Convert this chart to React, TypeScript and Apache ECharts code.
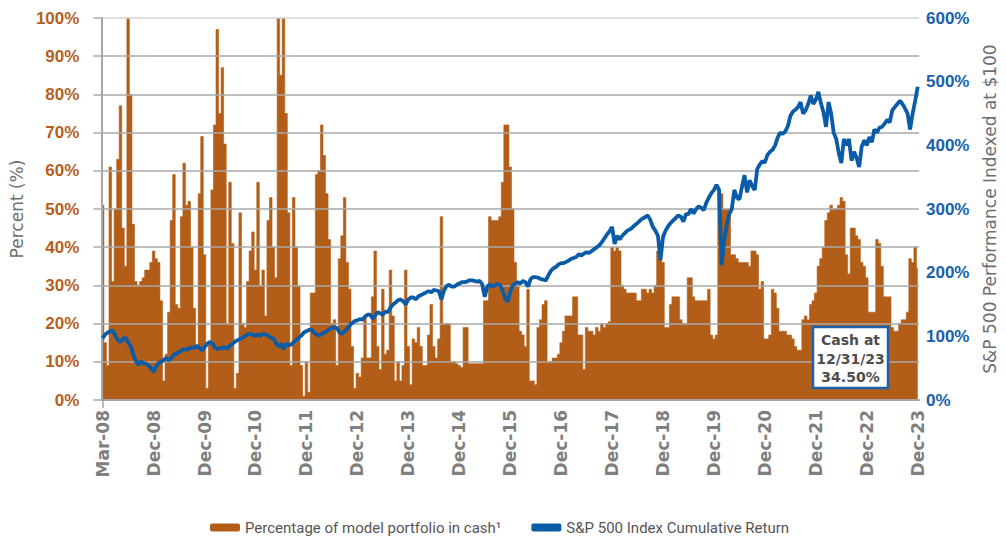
import React, { useEffect, useRef } from 'react';
import * as echarts from 'echarts';

const tickLabels = [
  'Mar-08', 'Dec-08', 'Dec-09', 'Dec-10', 'Dec-11', 'Dec-12', 'Dec-13', 'Dec-14', 'Dec-15',
  'Dec-16', 'Dec-17', 'Dec-18', 'Dec-19', 'Dec-20', 'Dec-21', 'Dec-22', 'Dec-23',
];

// Percentage of model portfolio in cash (left axis, %)
const cashPct = [
  51, 15, 9, 61, 31, 50, 63, 77, 45, 35,
  100, 80, 46, 31, 30, 31, 32, 34, 34, 36,
  39, 37, 36, 26, 5, 12, 23, 47, 59, 25,
  24, 48, 62, 51, 52, 40, 24, 14, 54, 69,
  38, 3, 15, 55, 72, 97, 75, 87, 67, 20,
  57, 41, 3, 7, 49, 20, 19, 31, 39, 44,
  34, 57, 30, 34, 22, 47, 53, 40, 32, 100,
  85, 100, 75, 49, 9, 53, 40, 30, 9, 1,
  10, 2, 28, 28, 59, 60, 72, 64, 54, 42,
  20, 21, 9, 37, 43, 53, 36, 29, 14, 3,
  7, 6, 11, 22, 11, 11, 27, 39, 14, 8,
  29, 12, 13, 34, 22, 5, 10, 5, 9, 34,
  14, 4, 16, 15, 19, 14, 9, 9, 17, 25,
  14, 11, 16, 48, 20, 20, 20, 10, 10, 9.5,
  9, 8.5, 19, 19, 9.5, 9.5, 9.5, 9.5, 9.5, 9.5,
  26, 26, 48, 47, 47, 47, 48, 57, 72, 72,
  61, 50, 36, 30, 18, 17, 14, 29, 5, 5,
  4, 19, 21, 25, 26, 10, 10, 11, 11, 12,
  15, 18, 22, 22, 22, 27, 27, 17, 17, 8,
  19, 18, 18, 17, 19, 18, 20, 19, 20, 20.5,
  40, 39, 40, 39, 30, 29, 28, 28, 28, 28,
  26, 26, 29, 29, 28, 29, 28, 30, 39, 39,
  36, 19, 19, 25, 27, 27, 27, 21, 20, 20,
  32, 32, 27, 26, 26, 26, 26, 26, 29, 17,
  16, 17, 54, 54, 50, 50, 50, 38, 38, 37,
  36, 36, 36, 36, 35, 39, 39, 38, 29, 31,
  16, 16, 17, 29, 28, 24, 18, 18, 18, 17,
  17, 16, 14, 13, 13, 21, 22, 21, 25, 26,
  28, 35, 37, 40, 47, 49, 51, 50, 50, 51,
  53, 52, 38, 33, 45, 45, 43, 42, 36, 35,
  32, 23, 23, 23, 42, 41, 35, 27, 27, 27,
  19, 18, 18, 20, 21, 21, 23, 37, 36, 40,
  34.5,
];

// S&P 500 performance indexed at $100 (right axis, %)
const spReturn = [
  97, 103, 106, 108, 109, 101, 94, 91, 96, 98,
  90, 85, 72, 62, 55, 60, 58, 57, 54, 50,
  44, 53, 58, 60, 63, 66, 62, 66, 71, 73,
  75, 78, 80, 79, 81, 83, 82, 85, 82, 78,
  83, 88, 91, 89, 83, 80, 81, 82, 83, 80,
  86, 88, 92, 94, 96, 98, 101, 103, 104, 102,
  101, 103, 101, 104, 103, 101, 98, 97, 90, 84,
  88, 80, 88, 86, 87, 91, 94, 98, 101, 106,
  108, 110, 111, 106, 103, 101, 104, 106, 108, 111,
  113, 114, 113, 106, 104, 108, 112, 117, 121, 124,
  125, 127, 126, 131, 134, 134, 128, 133, 138, 136,
  134, 139, 138, 145, 150, 153, 157, 158, 155, 150,
  158, 161, 161, 158, 163, 165, 167, 169, 171, 169,
  173, 172, 171, 158, 172, 179, 181, 178, 178, 181,
  183, 185, 185, 186, 188, 188, 187, 186, 187, 182,
  162, 178, 182, 178, 180, 182, 181, 172, 160, 154,
  170, 180, 183, 185, 183, 187, 185, 178, 190, 193,
  193, 192, 190, 189, 188, 196, 203, 207, 209, 213,
  215, 215, 217, 219, 222, 223, 225, 229, 227, 230,
  232, 231, 234, 237, 240, 243, 248, 254, 260, 265,
  272, 245, 258, 252, 258, 262, 266, 268, 271, 275,
  278, 282, 285, 287, 290, 283, 272, 266, 258, 220,
  256, 266, 273, 278, 282, 286, 290, 288, 280, 292,
  292, 300, 293, 300, 304, 302, 298, 310, 318, 325,
  330, 338, 330, 212, 250, 275, 292, 300, 330, 318,
  315, 335, 353, 326, 345, 336, 330, 363, 370, 375,
  373, 385, 390, 393, 400, 412, 420, 418, 422, 430,
  446, 453, 456, 460, 468, 450, 455, 465, 478, 465,
  472, 484, 466, 452, 429, 468, 450, 420, 410, 388,
  372, 410, 400, 410, 376, 390, 380, 366, 398, 408,
  400, 413, 405, 425, 420, 428, 429, 434, 440, 436,
  455, 460, 465, 470, 465, 458, 450, 425, 450, 470,
  492,
];

const cashName = 'Percentage of model portfolio in cash\u00B9';
const spName = 'S&P 500 Index Cumulative Return';

export default function App() {
  const ref = useRef<HTMLDivElement>(null);

  useEffect(() => {
    if (!ref.current) return;
    const chart = echarts.init(ref.current, undefined, { renderer: 'svg' });
    const categories = cashPct.map((_, i) => String(i));
    const step = (cashPct.length - 1) / (tickLabels.length - 1);
    const gridColors = ['#a8a8a8', '#a8a8a8', '#a8a8a8', '#a8a8a8', '#a8a8a8', '#a8a8a8', '#a8a8a8', '#a8a8a8', '#a8a8a8', '#a8a8a8', '#d4d4d4'];
    const lastCash = cashPct[cashPct.length - 1];
    const orange = '#b35e18';
    const blue = '#0b5ca8';

    const boxText = {
      fill: '#4d4d4d',
      fontFamily: 'DejaVu Sans',
      fontWeight: 'bold',
      fontSize: 14,
      align: 'center',
      verticalAlign: 'middle',
    };

    chart.setOption({
      animation: false,
      grid: { left: 100.72, right: 81.72, top: 18, bottom: 138, containLabel: false },
      legend: {
        left: 210,
        top: 520,
        padding: 0,
        itemWidth: 30,
        itemHeight: 8,
        itemGap: 30,
        textStyle: { fontFamily: 'Roboto', fontSize: 15, color: '#555' },
        data: [
          { name: cashName, icon: 'roundRect', itemStyle: { color: orange } },
          { name: spName, icon: 'roundRect', itemStyle: { color: blue } },
        ],
      },
      xAxis: {
        type: 'category',
        data: categories,
        boundaryGap: true,
        z: 3,
        axisLine: { lineStyle: { color: '#a6a6a6', width: 2 } },
        axisTick: {
          show: true,
          length: 8,
          alignWithLabel: true,
          interval: (i: number) => i === 0,
          lineStyle: { color: '#a6a6a6', width: 1.5 },
        },
        axisLabel: {
          interval: step - 1,
          rotate: 90,
          margin: 10,
          color: '#7f7f7f',
          fontFamily: 'DejaVu Sans',
          fontWeight: 'bold',
          fontSize: 17,
          formatter: (_v: string, idx: number) => (idx % step === 0 ? tickLabels[idx / step] : ''),
        },
      },
      yAxis: [
        {
          type: 'value',
          min: 0,
          max: 100,
          interval: 10,
          position: 'left',
          z: 3,
          name: 'Percent (%)',
          nameLocation: 'middle',
          nameRotate: 90,
          nameGap: 74,
          nameTextStyle: { color: '#6d6e71', fontSize: 17, fontFamily: 'DejaVu Sans' },
          axisLine: { show: true, lineStyle: { color: '#a6a6a6', width: 2 } },
          axisTick: { show: true, length: 8, lineStyle: { color: '#a8a8a8', width: 1.5 } },
          axisLabel: {
            formatter: '{value}%',
            color: '#b5601c',
            fontWeight: 'bold',
            fontSize: 17,
            fontFamily: 'Liberation Sans',
            margin: 22,
          },
          splitLine: { show: true, lineStyle: { color: gridColors, width: 1.5 } },
        },
        {
          type: 'value',
          min: 0,
          max: 600,
          interval: 100,
          position: 'right',
          name: 'S&P 500 Performance Indexed at $100',
          nameLocation: 'middle',
          nameRotate: 90,
          nameGap: 62,
          nameTextStyle: { color: '#6d6e71', fontSize: 17, fontFamily: 'DejaVu Sans' },
          axisLine: { show: false },
          axisTick: { show: false },
          splitLine: { show: false },
          axisLabel: {
            formatter: '{value}%',
            color: '#1a5fab',
            fontWeight: 'bold',
            fontSize: 17,
            fontFamily: 'Liberation Sans',
            margin: 7,
          },
        },
      ],
      series: [
        {
          name: cashName,
          type: 'line',
          step: 'middle',
          data: cashPct,
          yAxisIndex: 0,
          symbol: 'none',
          silent: true,
          z: 1,
          lineStyle: { width: 0.6, color: orange },
          itemStyle: { color: orange },
          areaStyle: { color: orange, opacity: 1 },
        },
        {
          name: spName,
          type: 'line',
          data: spReturn,
          yAxisIndex: 1,
          symbol: 'none',
          silent: true,
          z: 5,
          lineStyle: { color: blue, width: 3.8 },
          itemStyle: { color: blue },
        },
      ],
      graphic: [
        {
          type: 'rect',
          z: 10,
          shape: { x: 813, y: 327, width: 75, height: 61 },
          style: { fill: '#ffffff', stroke: '#1f5fa7', lineWidth: 2.5 },
        },
        { type: 'text', z: 11, x: 850.5, y: 340, style: { ...boxText, text: 'Cash at' } },
        { type: 'text', z: 11, x: 850.5, y: 358.5, style: { ...boxText, text: '12/31/23' } },
        { type: 'text', z: 11, x: 850.5, y: 377, style: { ...boxText, text: `${lastCash.toFixed(2)}%` } },
      ],
    });

    return () => chart.dispose();
  }, []);

  return (
    <div
      ref={ref}
      style={{ position: 'fixed', left: 0, top: 0, width: 1006, height: 538, background: '#ffffff' }}
    />
  );
}
